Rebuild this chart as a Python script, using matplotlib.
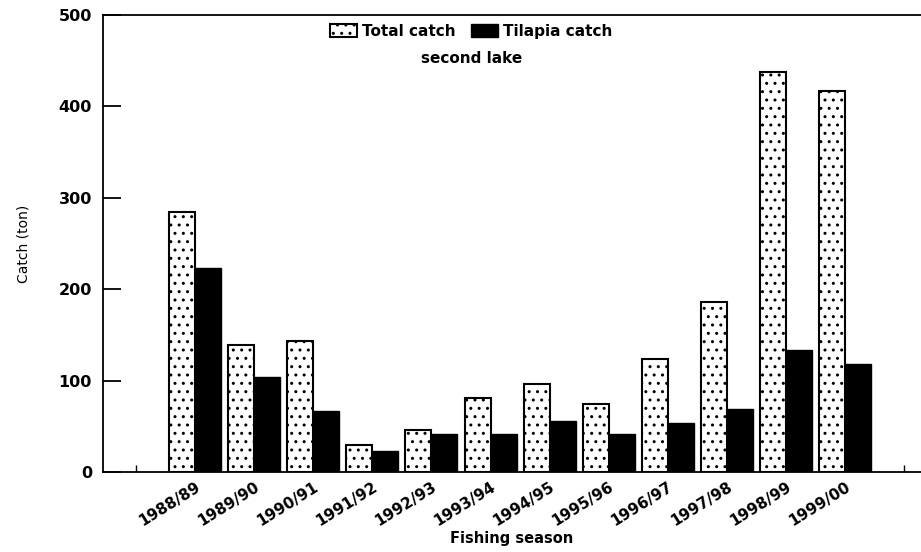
import matplotlib
matplotlib.use("Agg")
import matplotlib.pyplot as plt
import numpy as np

seasons = ["1988/89", "1989/90", "1990/91", "1991/92", "1992/93", "1993/94",
           "1994/95", "1995/96", "1996/97", "1997/98", "1998/99", "1999/00"]
total_catch = [284, 139, 143, 30, 46, 81, 96, 74, 124, 186, 438, 417]
tilapia_catch = [223, 104, 67, 23, 42, 42, 56, 42, 54, 69, 133, 118]

plt.rcParams['hatch.linewidth'] = 1.0
fig = plt.figure(figsize=(9.21, 5.52), dpi=100)
ax = fig.add_axes([0.112, 0.145, 0.888, 0.828])

x = np.arange(len(seasons))
w = 0.44
ax.bar(x - w/2, total_catch, width=w, facecolor='white', edgecolor='black',
       hatch='..', linewidth=1.5, label='Total catch')
ax.bar(x + w/2, tilapia_catch, width=w, facecolor='black', edgecolor='black',
       linewidth=1.0, label='Tilapia catch')

ax.set_xlim(-1.56, 12.29)
ax.set_ylim(0, 500)
ax.set_yticks([0, 100, 200, 300, 400, 500])
ax.tick_params(axis='y', direction='in', length=13, width=1.3, labelsize=11.5, pad=8)
for lab in ax.get_yticklabels():
    lab.set_fontweight('bold')
ax.set_xticks(x)
ax.set_xticklabels(seasons, rotation=32, ha='right', rotation_mode='anchor',
                   fontsize=11, fontweight='bold')
ax.tick_params(axis='x', length=0, pad=5)
ax.set_xticks([-1, 12], minor=True)
ax.tick_params(axis='x', which='minor', direction='in', length=5, width=1.0)

ax.spines['right'].set_visible(False)
for s in ['left', 'bottom', 'top']:
    ax.spines[s].set_linewidth(1.3)

ax.set_ylabel('Catch (ton)', fontsize=10, labelpad=20)
ax.set_xlabel('Fishing season', fontsize=10.5, fontweight='bold', labelpad=2)

leg = ax.legend(loc='upper center', bbox_to_anchor=(0.45, 1.01), ncol=2,
                frameon=False, fontsize=11, handlelength=1.8, handleheight=0.9,
                columnspacing=1.0, handletextpad=0.3)
for t in leg.get_texts():
    t.set_fontweight('bold')
ax.text(0.45, 0.905, 'second lake', transform=ax.transAxes, ha='center',
        va='center', fontsize=11, fontweight='bold')

fig.savefig('out.png', dpi=100)
